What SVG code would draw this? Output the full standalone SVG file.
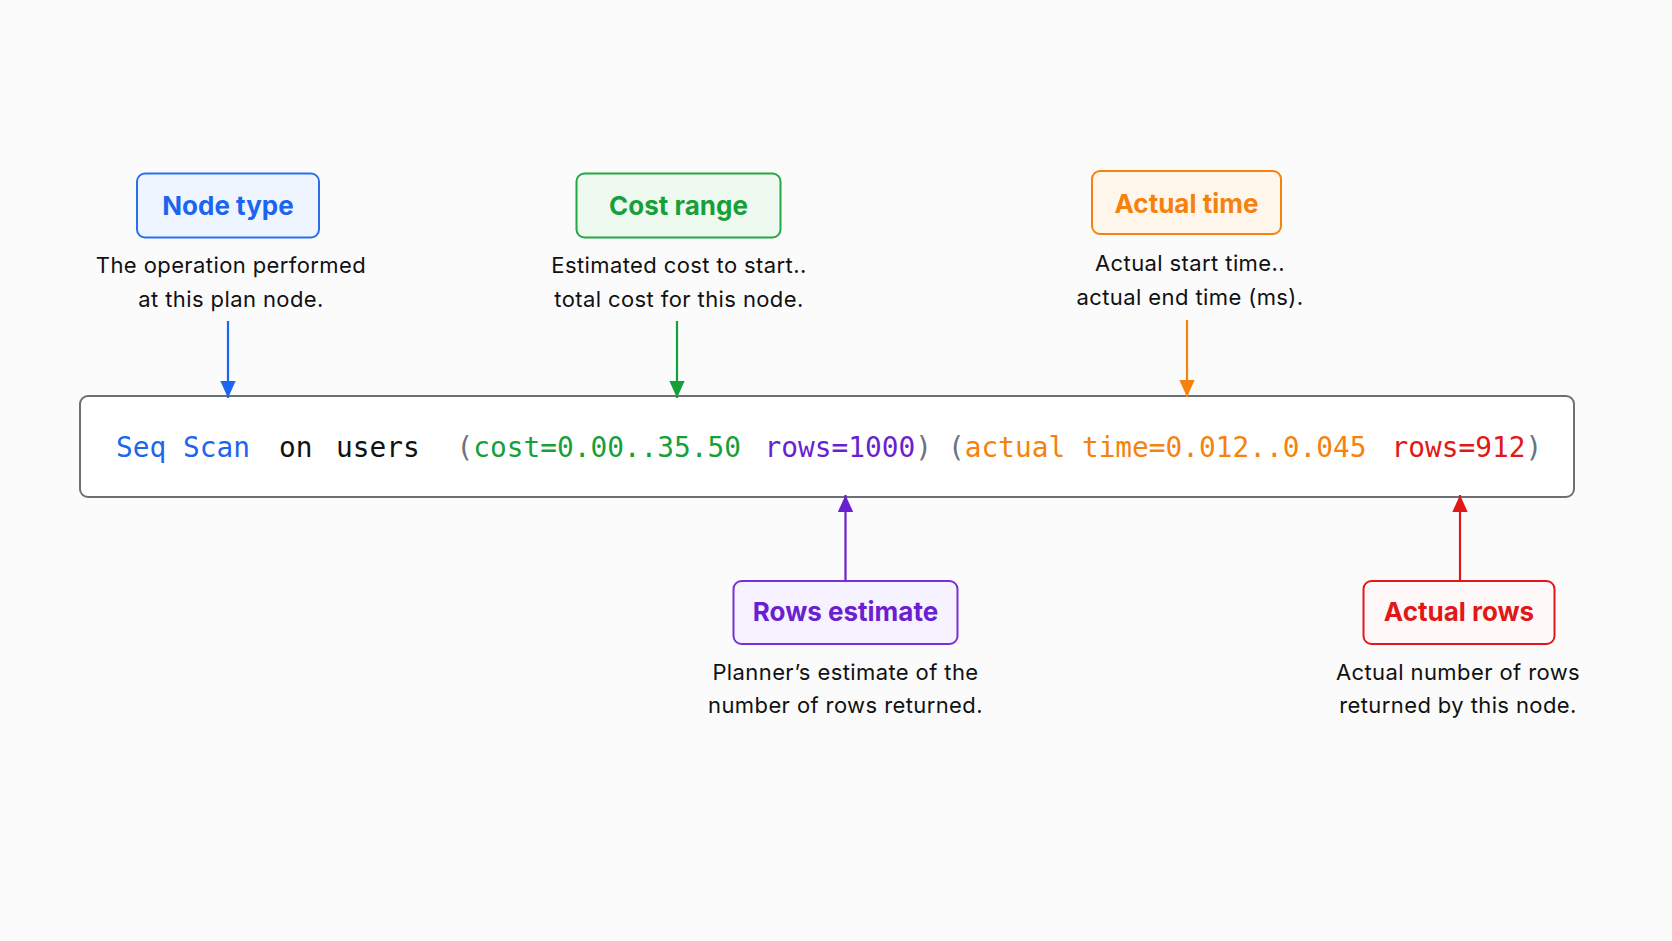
<svg xmlns="http://www.w3.org/2000/svg" width="1672" height="941" viewBox="0 0 1672 941">
<style>
.lbl{font-family:Inter,Lato,"Noto Sans",sans-serif;font-weight:700;font-size:26px;text-anchor:middle}
.desc{font-family:Inter,Lato,"Noto Sans",sans-serif;font-size:22px;letter-spacing:0.4px;fill:#111;text-anchor:middle}
.code{font-family:"DejaVu Sans Mono",monospace;font-size:27.8px}
.conn{stroke-width:2.2;fill:none}
</style>
<defs>
<marker id="ab" viewBox="0 0 10 10" refX="10" refY="5" markerWidth="17" markerHeight="17" markerUnits="userSpaceOnUse" orient="auto"><path d="M0,0.5 L10,5 L0,9.5 z" fill="#1a66f0"/></marker>
<marker id="ag" viewBox="0 0 10 10" refX="10" refY="5" markerWidth="17" markerHeight="17" markerUnits="userSpaceOnUse" orient="auto"><path d="M0,0.5 L10,5 L0,9.5 z" fill="#16a03a"/></marker>
<marker id="ao" viewBox="0 0 10 10" refX="10" refY="5" markerWidth="17" markerHeight="17" markerUnits="userSpaceOnUse" orient="auto"><path d="M0,0.5 L10,5 L0,9.5 z" fill="#f5820d"/></marker>
<marker id="ap" viewBox="0 0 10 10" refX="10" refY="5" markerWidth="17" markerHeight="17" markerUnits="userSpaceOnUse" orient="auto"><path d="M0,0.5 L10,5 L0,9.5 z" fill="#6a1fd0"/></marker>
<marker id="ar" viewBox="0 0 10 10" refX="10" refY="5" markerWidth="17" markerHeight="17" markerUnits="userSpaceOnUse" orient="auto"><path d="M0,0.5 L10,5 L0,9.5 z" fill="#e01818"/></marker>
</defs>
<rect width="1672" height="941" fill="#fbfbfb"/>

<g id="plan">
<rect x="80" y="396" width="1494" height="101" rx="8" fill="#ffffff" stroke="#6b6f76" stroke-width="2"/>
<text class="code" y="456.5">
<tspan x="116" fill="#1a66f0">Seq Scan</tspan><tspan x="279" fill="#111">on</tspan><tspan x="336" fill="#111">users</tspan><tspan x="456.5" fill="#6b7280">(</tspan><tspan fill="#16a03a">cost=0.00..35.50</tspan><tspan x="764.5" fill="#6a1fd0">rows=1000</tspan><tspan fill="#6b7280">)</tspan><tspan x="948" fill="#6b7280">(</tspan><tspan fill="#f5820d">actual time=0.012..0.045</tspan><tspan x="1391.5" fill="#e01818">rows=912</tspan><tspan fill="#6b7280">)</tspan>
</text>
</g>

<g id="node-type">
<rect x="137" y="173.5" width="182" height="64" rx="8" fill="#eff5ff" stroke="#2b6ff0" stroke-width="2"/>
<text class="lbl" x="228" y="215" fill="#1a66f0">Node type</text>
<text class="desc" x="231" y="273">The operation performed</text>
<text class="desc" x="231" y="306.5">at this plan node.</text>
</g>

<g id="cost-range">
<rect x="576.5" y="173.5" width="204" height="64" rx="8" fill="#eefaf0" stroke="#22a843" stroke-width="2"/>
<text class="lbl" x="678.5" y="215" fill="#16a03a">Cost range</text>
<text class="desc" x="679" y="273">Estimated cost to start..</text>
<text class="desc" x="679" y="306.5">total cost for this node.</text>
</g>

<g id="actual-time">
<rect x="1092" y="171" width="189" height="63" rx="8" fill="#fff6ec" stroke="#f5820d" stroke-width="2"/>
<text class="lbl" x="1186.5" y="212.5" fill="#f5820d">Actual time</text>
<text class="desc" x="1190" y="271">Actual start time..</text>
<text class="desc" x="1190" y="304.5">actual end time (ms).</text>
</g>

<g id="rows-estimate">
<rect x="733.5" y="581" width="224" height="63" rx="8" fill="#f7f2ff" stroke="#7a2fd8" stroke-width="2"/>
<text class="lbl" x="845.5" y="620.5" fill="#6a1fd0">Rows estimate</text>
<text class="desc" x="845.5" y="680">Planner’s estimate of the</text>
<text class="desc" x="845.5" y="712.5">number of rows returned.</text>
</g>

<g id="actual-rows">
<rect x="1363.5" y="581" width="191" height="63" rx="8" fill="#fff8f8" stroke="#e01818" stroke-width="2"/>
<text class="lbl" x="1459" y="620.5" fill="#e01818">Actual rows</text>
<text class="desc" x="1458" y="679.5">Actual number of rows</text>
<text class="desc" x="1458" y="712.5">returned by this node.</text>
</g>

<g id="connectors">
<line class="conn" x1="228" y1="321" x2="228" y2="398" stroke="#1a66f0" marker-end="url(#ab)"/>
<line class="conn" x1="677" y1="321" x2="677" y2="398" stroke="#16a03a" marker-end="url(#ag)"/>
<line class="conn" x1="1187" y1="320" x2="1187" y2="397" stroke="#f5820d" marker-end="url(#ao)"/>
<line class="conn" x1="845.5" y1="581" x2="845.5" y2="495" stroke="#6a1fd0" marker-end="url(#ap)"/>
<line class="conn" x1="1460" y1="581" x2="1460" y2="495" stroke="#e01818" marker-end="url(#ar)"/>
</g>
</svg>
